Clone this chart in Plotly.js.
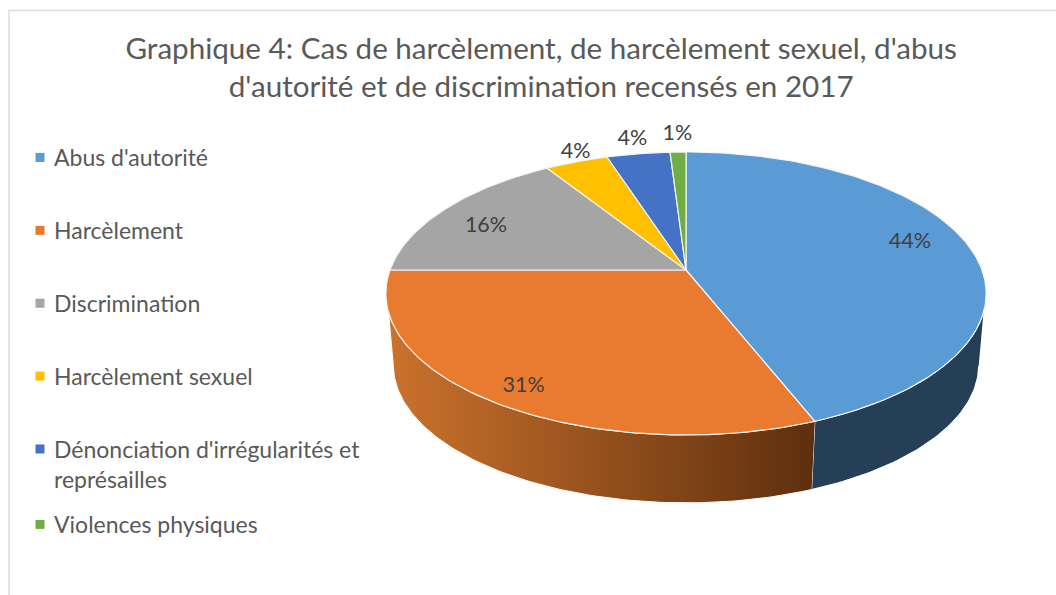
<!DOCTYPE html>
<html>
<head>
<meta charset="utf-8">
<script src="https://cdn.plot.ly/plotly-3.0.1.min.js"></script>
<style>html,body{margin:0;padding:0;background:#fff;overflow:hidden}#chart{width:1056px;height:595px}</style>
</head>
<body>
<div id="chart"></div>
<script>
// --- Data ---
const categories = ["Abus d'autorité", "Harcèlement", "Discrimination", "Harcèlement sexuel", "Dénonciation d'irrégularités et<br>représailles", "Violences physiques"];
const values = [44, 31, 16, 4, 4, 1];
const colors = ["#5B9BD5", "#E97B31", "#A5A5A5", "#FFC000", "#4472C4", "#70AD47"];
const titleText = "Graphique 4: Cas de harcèlement, de harcèlement sexuel, d'abus<br>d'autorité et de discrimination recensés en 2017";

// --- Tilted-pie geometry (pixel-like axis units) ---
const apex = [686, 270], halfWidth = 296, halfHeight = 137.6, persp = 0.166;
const rimScale = 0.975, rimDrop = 72;
const labelRadius = [0.8, 0.87, 0.8, 1.05, 1.1, 1.1];
const labelNudgeX = [-3, 2, -5, 4, -2, 0];
const labelNudgeY = [-7, 4, 6, -4, -4, -7];

function project(r, deg, scale, drop) {
  const t = deg * Math.PI / 180, X = Math.sin(t), Y = -Math.cos(t), den = 1 - persp * r * Y;
  return [apex[0] + scale * halfWidth * r * X / den, apex[1] + drop + scale * halfHeight * r * Y / den];
}
function arc(from, to, scale, drop) {
  const n = Math.max(2, Math.ceil(Math.abs(to - from))), pts = [];
  for (let i = 0; i <= n; i++) pts.push(project(1, from + (to - from) * i / n, scale, drop));
  return pts;
}
const total = values.reduce((a, b) => a + b, 0);
const starts = [], ends = [];
values.reduce((acc, v, i) => { starts[i] = acc / total * 360; ends[i] = (acc + v) / total * 360; return acc + v; }, 0);

const traces = [];
function poly(pts, extra) {
  return Object.assign({
    x: pts.map(p => p[0]), y: pts.map(p => p[1]), mode: "lines", fill: "toself",
    showlegend: false, hoverinfo: "skip", line: {color: "#fff", width: 1}
  }, extra);
}
// Front side walls: Abus d'autorité (dark blue) and Harcèlement (gradient)
const sideRight = arc(107, ends[0], 1, 0).concat(arc(ends[0], 100, rimScale, rimDrop));
traces.push(poly(sideRight, {fillcolor: "#243F56"}));
const sideLeft = arc(starts[1], 253, 1, 0).concat(arc(260, starts[1], rimScale, rimDrop));
traces.push(poly(sideLeft, {fillcolor: "#C9702C", fillgradient: {type: "horizontal", colorscale: [[0, "#CB722C"], [1, "#5E2F0E"]]}}));
// Top surface wedges
values.forEach((v, i) => {
  const pts = [apex].concat(arc(starts[i], ends[i], 1, 0), [apex]);
  traces.push(poly(pts, {fillcolor: colors[i], line: {color: "#F4F4F4", width: 1.2}}));
});
// Data labels
const lbl = values.map((v, i) => project(labelRadius[i], (starts[i] + ends[i]) / 2, 1, 0));
traces.push({
  x: lbl.map((p, i) => p[0] + labelNudgeX[i]), y: lbl.map((p, i) => p[1] + labelNudgeY[i]),
  text: values.map(v => v + "%"), mode: "text", textposition: "middle center",
  textfont: {family: "Lato, sans-serif", size: 21.5, color: "#404040"}, showlegend: false, hoverinfo: "skip"
});
// Legend entries (the last entry sits closer, so it has its own legend box)
categories.forEach((c, i) => traces.push({
  x: [null], y: [null], mode: "markers", name: c, legendgroup: "g" + i, showlegend: true,
  legend: i === categories.length - 1 ? "legend2" : "legend",
  marker: {symbol: "square", size: 9, color: colors[i]}
}));

const legendFont = {family: "Lato, sans-serif", size: 23, color: "#595959"};
const layout = {
  width: 1056, height: 595, margin: {l: 0, r: 0, t: 0, b: 0},
  paper_bgcolor: "#fff", plot_bgcolor: "#fff",
  xaxis: {range: [0, 1056], visible: false, fixedrange: true},
  yaxis: {range: [595, 0], visible: false, fixedrange: true},
  title: {text: titleText, x: 0.5125, xanchor: "center", y: 0.9015, yanchor: "middle",
          font: {family: "Lato, sans-serif", size: 29.6, color: "#595959"}},
  legend: {x: 14 / 1056, xanchor: "left", y: 1 - 136 / 595, yanchor: "top", bgcolor: "rgba(0,0,0,0)",
           traceorder: "grouped", tracegroupgap: 40, itemwidth: 30, font: legendFont},
  legend2: {x: 14 / 1056, xanchor: "left", y: 1 - 503 / 595, yanchor: "top", bgcolor: "rgba(0,0,0,0)",
            itemwidth: 30, font: legendFont},
  shapes: [{type: "rect", xref: "paper", yref: "paper", x0: 9 / 1056, x1: 1.01, y0: -0.01, y1: 1 - 10.5 / 595,
            line: {color: "#DCDCDC", width: 1.5}, fillcolor: "rgba(0,0,0,0)", layer: "below"}]
};
Plotly.newPlot("chart", traces, layout, {displayModeBar: false, staticPlot: true}).then(() => {
  // Legend swatches sit close to their text, and on the first line of a wrapped entry
  document.querySelectorAll("#chart .legendpoints").forEach((g, i) => {
    g.setAttribute("transform", "translate(6," + (i === 4 ? -15 : 0) + ")");
  });
});
</script>
</body>
</html>
